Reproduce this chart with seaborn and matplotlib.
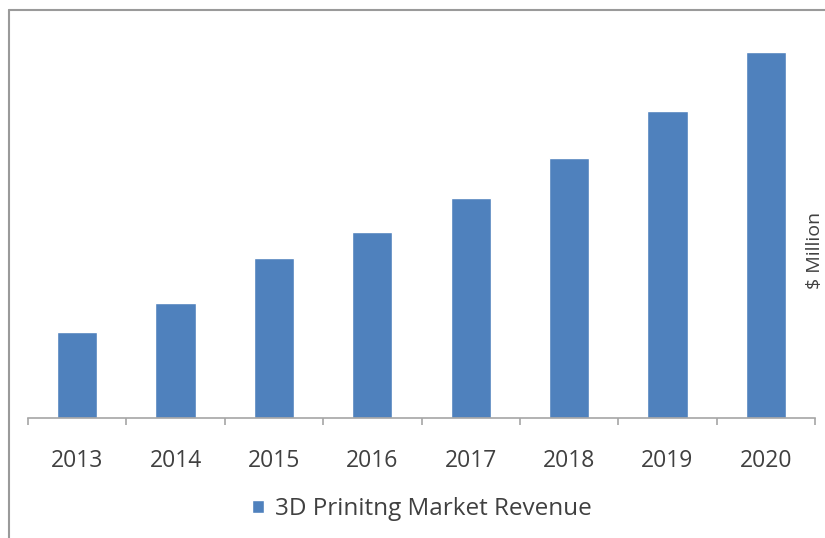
import matplotlib
matplotlib.use('Agg')
import matplotlib.pyplot as plt
from matplotlib.lines import Line2D
import numpy as np
import pandas as pd
import seaborn as sns

# data (arbitrary $ Million units, no scale shown)
years = ['2013', '2014', '2015', '2016', '2017', '2018', '2019', '2020']
revenue = [86, 115, 160, 186, 220, 260, 307, 366]

df = pd.DataFrame({'year': years, 'revenue': revenue})

sns.set_style('white')
plt.rcParams['font.family'] = ['Open Sans', 'DejaVu Sans']

fig = plt.figure(figsize=(8.25, 5.38), dpi=100)
ax = fig.add_axes([28 / 825, 120 / 538, 787 / 825, 388 / 538])

sns.barplot(data=df, x='year', y='revenue', color='#4F81BD', width=0.41,
            saturation=1, label='3D Prinitng Market Revenue', ax=ax)

ax.set_xlim(-0.5, 7.5)
ax.set_ylim(0, 388)
ax.set_xlabel('')
ax.set_ylabel('')
ax.set_yticks([])
for s in ['top', 'right', 'left']:
    ax.spines[s].set_visible(False)
ax.spines['bottom'].set_color('#A6A6A6')
ax.spines['bottom'].set_linewidth(1.2)

ax.set_xticks(np.arange(len(years)))
ax.set_xticklabels(years)
ax.set_xticks(np.arange(len(years) + 1) - 0.5, minor=True)
ax.tick_params(axis='x', which='major', bottom=False, length=0, pad=22,
               labelsize=16.5, labelcolor='#404040')
ax.tick_params(axis='x', which='minor', bottom=True, length=5, width=1.2,
               color='#A6A6A6', direction='out')

ax.legend(loc='center', bbox_to_anchor=(0.5, -0.235), frameon=False, fontsize=17.5,
          handlelength=0.5, handleheight=0.5, handletextpad=0.45, labelcolor='#404040')

fig.text(806 / 825, 1 - 250 / 538, '$ Million', rotation=90, ha='left', va='center',
         fontsize=14, color='#404040')

# outer chart frame (top and left edges)
fig.add_artist(Line2D([9 / 825, 1.0], [1 - 10 / 538, 1 - 10 / 538], color='#9A9A9A', lw=1.5,
                      transform=fig.transFigure))
fig.add_artist(Line2D([9 / 825, 9 / 825], [0, 1 - 10 / 538], color='#9A9A9A', lw=1.5,
                      transform=fig.transFigure))

fig.savefig('out.png', dpi=100)
